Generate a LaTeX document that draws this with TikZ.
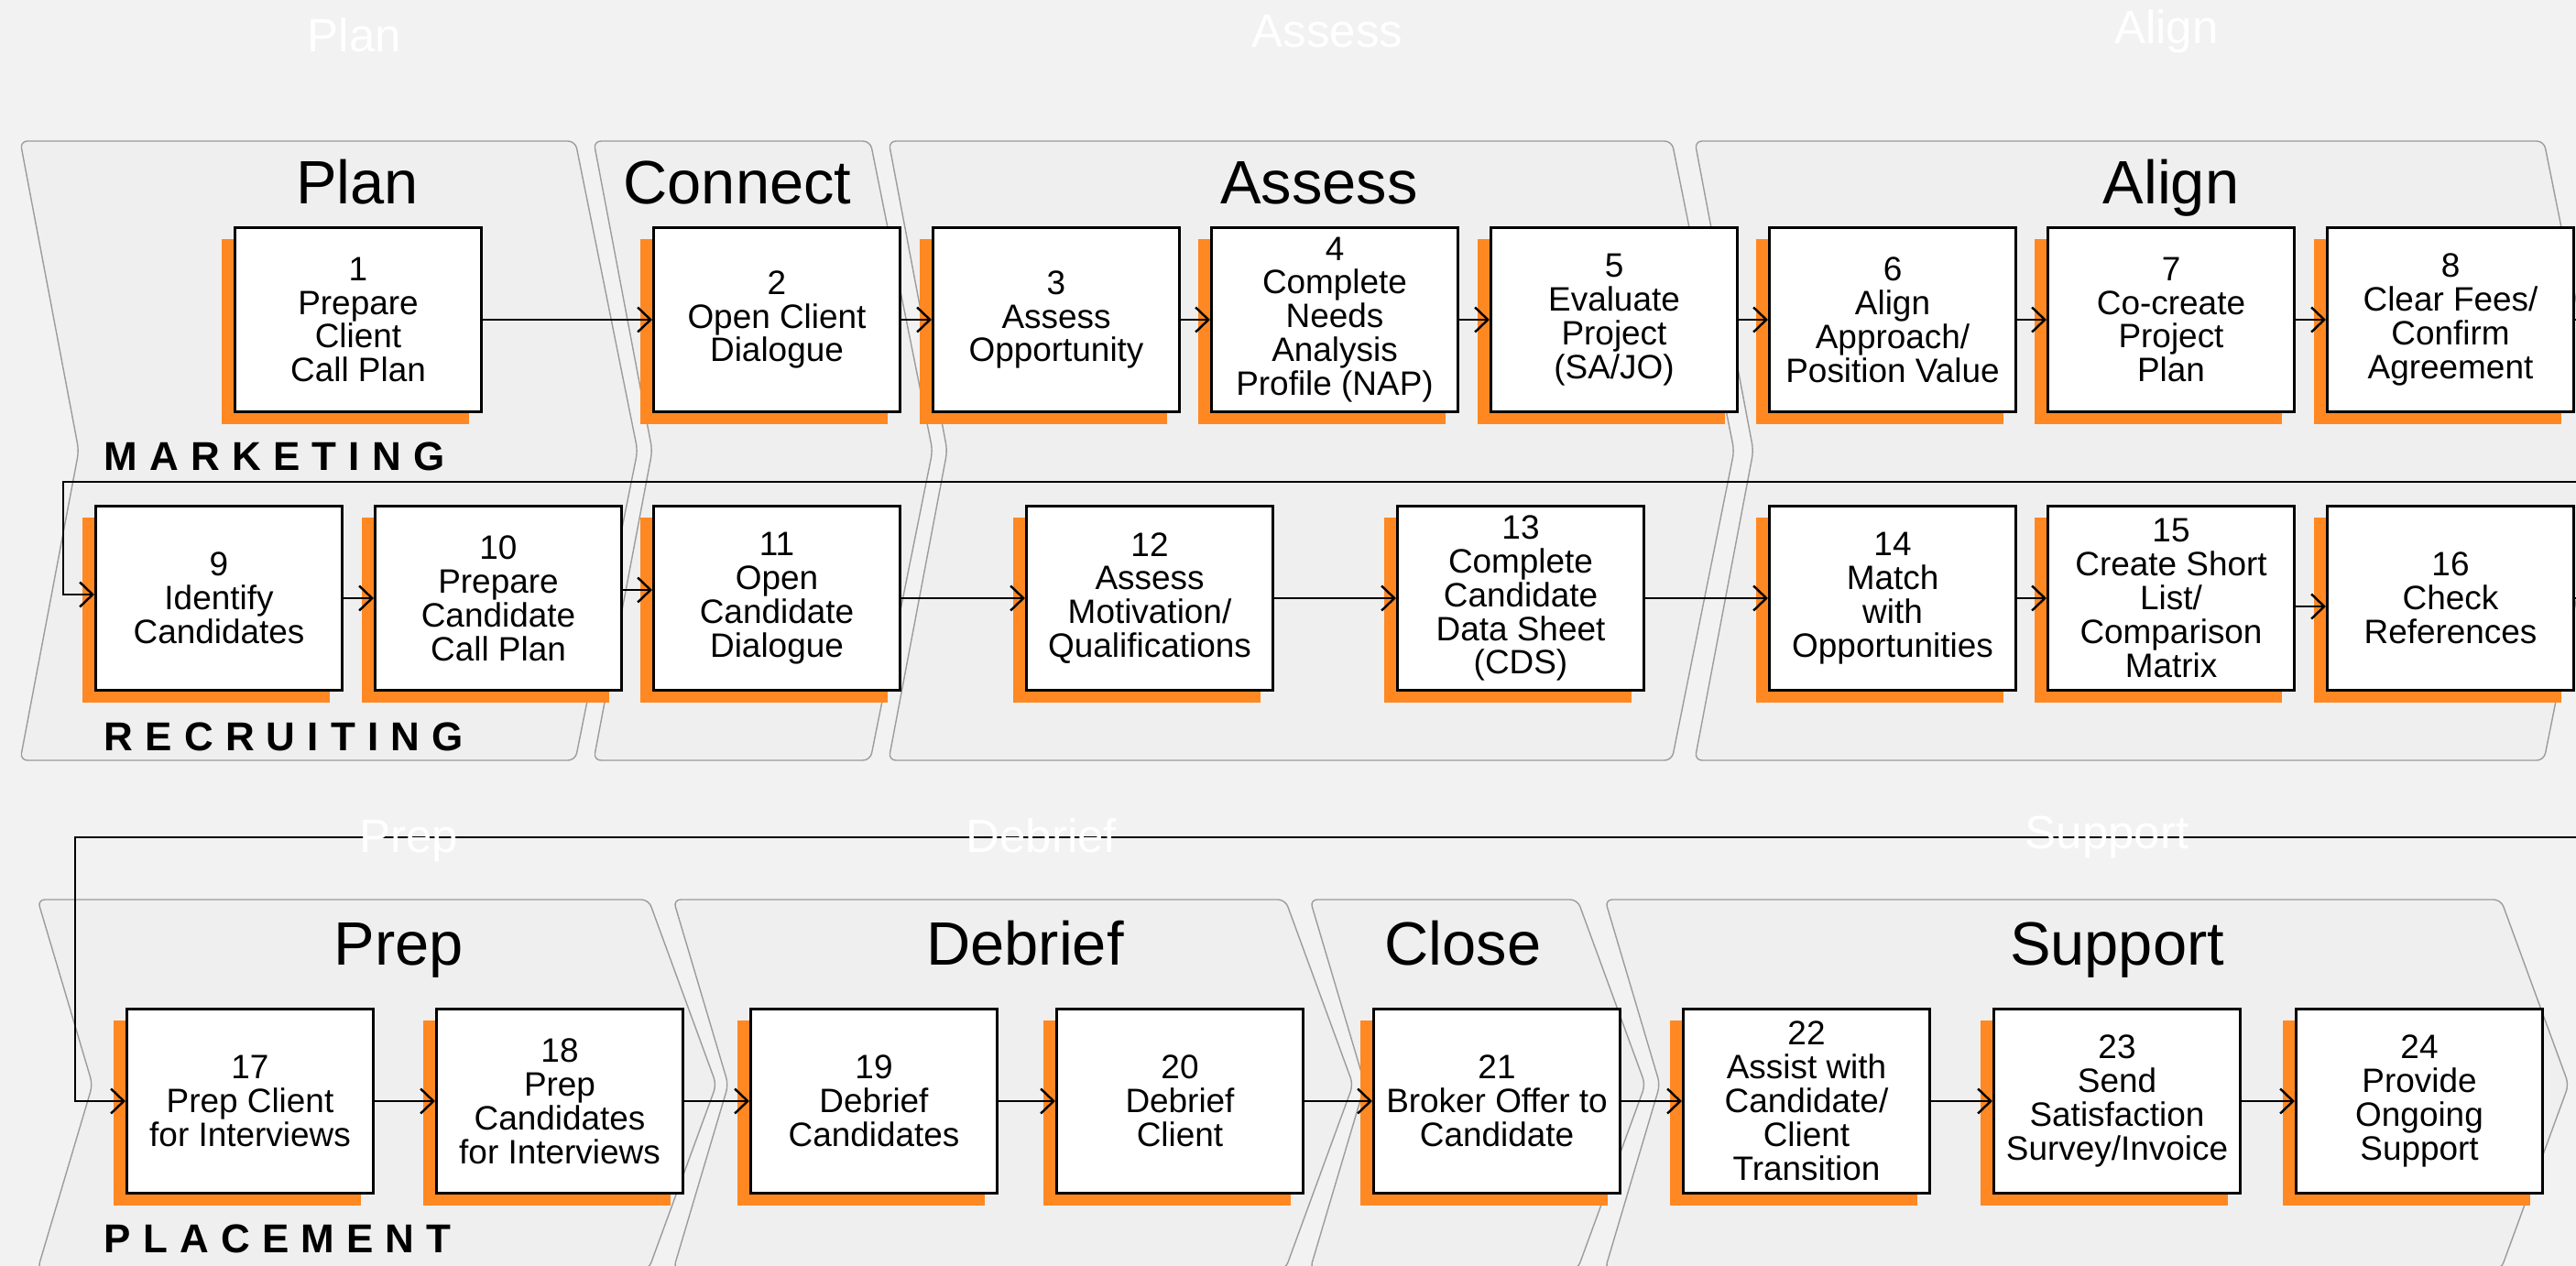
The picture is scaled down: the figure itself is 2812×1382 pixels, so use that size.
\documentclass[tikz,border=0pt]{standalone}
\usepackage{fontspec}
\setmainfont{Liberation Sans}
\newfontfamily\lanefont{Liberation Sans}[LetterSpace=30]
\usetikzlibrary{arrows.meta,shadows}
\definecolor{bggray}{HTML}{F2F2F2}
\definecolor{chevfill}{HTML}{EFEFEF}
\definecolor{chevline}{HTML}{9C9C9C}
\definecolor{boxorange}{HTML}{FF8822}

\begin{document}
\begin{tikzpicture}[x=0.01cm, y=-0.01cm,
    chev/.style={fill=chevfill, draw=chevline, line width=0.4pt, rounded corners=0.08cm},
    box/.style={draw, fill=white, line width=0.85pt, minimum width=2.69cm, minimum height=2.01cm,
        inner sep=0pt, align=center, font=\fontsize{10.5}{10.5}\selectfont,
        drop shadow={shadow xshift=-0.14cm, shadow yshift=-0.13cm, fill=boxorange, opacity=1}},
    link/.style={line width=0.7pt, -{Straight Barb[length=0.14cm, width=0.27cm]}},
    title/.style={anchor=base, font=\fontsize{19}{19}\selectfont},
    ghost/.style={anchor=base, text=white, font=\fontsize{14.5}{14.5}\selectfont},
    lane/.style={anchor=base west, inner sep=0pt, font=\lanefont\bfseries\fontsize{12.5}{12.5}\selectfont}]
    \clip (0,0) rectangle (2812,1382);
    \fill[bggray] (0,0) rectangle (2812,1382);
    % chevrons
    \foreach \l/\r in {22/628, 648/950, 970/1825, 1850/2777}
        \draw[chev] (\l,154) -- (\r,154) -- (\r+68,492) -- (\r,830) -- (\l,830) -- (\l+64,492) -- cycle;
    \foreach \l/\r in {41/708, 735/1403, 1430/1722, 1752/2730}
        \draw[chev] (\l,982) -- (\r,982) -- (\r+74,1184) -- (\r,1386) -- (\l,1386) -- (\l+60,1184) -- cycle;
    \node[title] (tplan) at (390,222) {Plan};
    \node[title] (tconnect) at (805,222) {Connect};
    \node[title] (tassess) at (1440,222) {Assess};
    \node[title] (talign) at (2370,222) {Align};
    \node[title] (tprep) at (435,1053) {Prep};
    \node[title] (tdebrief) at (1119,1053) {Debrief};
    \node[title] (tclose) at (1597,1053) {Close};
    \node[title] (tsupport) at (2311,1053) {Support};
    \node[lane] (marketing) at (113,513) {MARKETING};
    \node[lane] (recruiting) at (113,819) {RECRUITING};
    \node[lane] (placement) at (113,1367) {PLACEMENT};
    % marketing row
    \node[box] (1) at (391,349) {1\\Prepare\\Client\\Call Plan};
    \node[box] (2) at (848,349) {2\\Open Client\\Dialogue};
    \node[box] (3) at (1153,349) {3\\Assess\\Opportunity};
    \node[box] (4) at (1457,349) {4\\Complete\\Needs\\Analysis\\Profile (NAP)};
    \node[box] (5) at (1762,349) {5\\Evaluate\\Project\\(SA/JO)};
    \node[box] (6) at (2066,349) {6\\Align\\Approach/\\Position Value};
    \node[box] (7) at (2370,349) {7\\Co-create\\Project\\Plan};
    \node[box] (8) at (2675,349) {8\\Clear Fees/\\Confirm\\Agreement};
    % recruiting row
    \node[box] (9) at (239,653) {9\\Identify\\Candidates};
    \node[box] (10) at (544,653) {10\\Prepare\\Candidate\\Call Plan};
    \node[box] (11) at (848,653) {11\\Open\\Candidate\\Dialogue};
    \node[box] (12) at (1255,653) {12\\Assess\\Motivation/\\Qualifications};
    \node[box] (13) at (1660,653) {13\\Complete\\Candidate\\Data Sheet\\(CDS)};
    \node[box] (14) at (2066,653) {14\\Match\\with\\Opportunities};
    \node[box] (15) at (2370,653) {15\\Create Short\\List/\\Comparison\\Matrix};
    \node[box] (16) at (2675,653) {16\\Check\\References};
    % placement row
    \node[box] (17) at (273,1202) {17\\Prep Client\\for Interviews};
    \node[box] (18) at (611,1202) {18\\Prep\\Candidates\\for Interviews};
    \node[box] (19) at (954,1202) {19\\Debrief\\Candidates};
    \node[box] (20) at (1288,1202) {20\\Debrief\\Client};
    \node[box] (21) at (1634,1202) {21\\Broker Offer to\\Candidate};
    \node[box] (22) at (1972,1202) {22\\Assist with\\Candidate/\\Client\\Transition};
    \node[box] (23) at (2311,1202) {23\\Send\\Satisfaction\\Survey/Invoice};
    \node[box] (24) at (2641,1202) {24\\Provide\\Ongoing\\Support};
    \coordinate (w1) at (69,526);
    \coordinate (w2) at (82,914);
    \foreach \a/\b in {1/2,2/3,3/4,4/5,5/6,6/7,7/8,9/10,11/12,12/13,13/14,14/15,17/18,18/19,19/20,20/21,21/22,22/23,23/24}
        \draw[link] (\a) -- (\b);
    \draw[link] ([yshift=0.09cm]10.east) -- ([yshift=0.09cm]11.west);
    \draw[link] ([yshift=-0.09cm]15.east) -- ([yshift=-0.09cm]16.west);
    \draw[link] (8.east) -- ++(30,0) |- (w1) |- ([yshift=0.04cm]9.west);
    \draw[link] (16.east) -- ++(30,0) |- (w2) |- (17.west);
    % faded headings
    \node[ghost] (gplan) at (387,57) {Plan};
    \node[ghost] (gassess) at (1449,52) {Assess};
    \node[ghost] (galign) at (2365,48) {Align};
    \node[ghost] (gprep) at (446,930) {Prep};
    \node[ghost] (gdebrief) at (1137,930) {Debrief};
    \node[ghost] (gsupport) at (2300,926) {Support};
\end{tikzpicture}
\end{document}
